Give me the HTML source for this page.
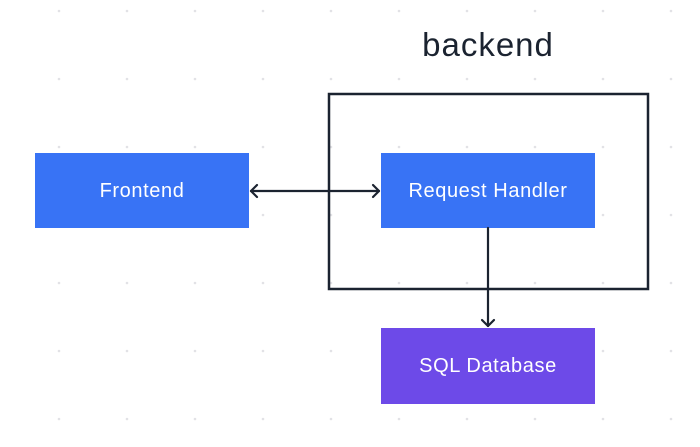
<!DOCTYPE html>
<html><head><style>
body{margin:0;width:700px;height:442px;background:#fff;overflow:hidden;font-family:"Liberation Sans",sans-serif;}
</style></head><body>
<svg width="700" height="442" viewBox="0 0 700 442" xmlns="http://www.w3.org/2000/svg">
<defs>
<pattern id="dots" x="25" y="-23" width="68" height="68" patternUnits="userSpaceOnUse">
<circle cx="34" cy="34" r="1.3" fill="#e2e2e6"/>
</pattern>
</defs>
<rect width="700" height="442" fill="url(#dots)"/>
<text x="488" y="56" font-size="33" letter-spacing="1" fill="#1b2330" text-anchor="middle" font-family="Liberation Sans, sans-serif">backend</text>
<rect x="329" y="94" width="319" height="195" fill="none" stroke="#1b2330" stroke-width="2.5"/>
<rect x="35" y="153" width="214" height="75" fill="#3873f5"/>
<rect x="381" y="153" width="214" height="75" fill="#3873f5"/>
<rect x="381" y="328" width="214" height="76" fill="#6d4ae8"/>
<g font-size="20" letter-spacing="0.6" fill="#fff" text-anchor="middle">
<text x="142" y="197">Frontend</text>
<text x="488" y="197">Request Handler</text>
<text x="488" y="372">SQL Database</text>
</g>
<g stroke="#1b2330" stroke-width="2.2" fill="none" stroke-linecap="round" stroke-linejoin="round">
<line x1="251" y1="191" x2="379" y2="191"/>
<polyline points="257,185 251,191 257,197"/>
<polyline points="373,185 379,191 373,197"/>
<line x1="488" y1="228" x2="488" y2="326"/>
<polyline points="482,320 488,326 494,320"/>
</g>
</svg>
</body></html>
